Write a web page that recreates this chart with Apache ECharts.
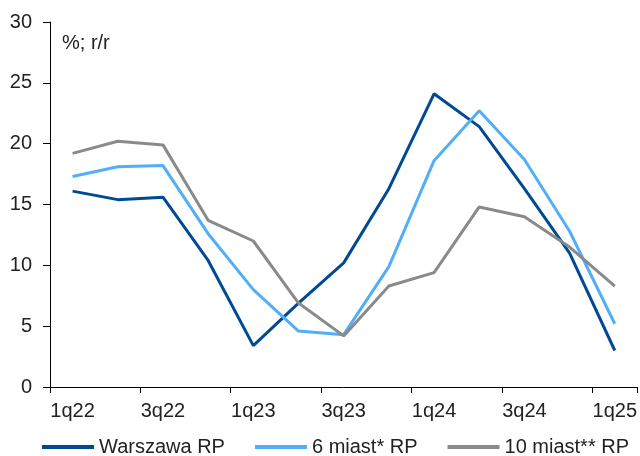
<!DOCTYPE html>
<html><head><meta charset="utf-8">
<script src="https://cdn.jsdelivr.net/npm/echarts@6/dist/echarts.min.js"></script>
<style>html,body{margin:0;padding:0;background:#fff}#c{width:640px;height:456px}</style>
</head><body><div id="c"></div>
<script>
const categories = ['1q22','2q22','3q22','4q22','1q23','2q23','3q23','4q23','1q24','2q24','3q24','4q24','1q25'];
const warszawa = [16.1,15.4,15.6,10.4,3.4,6.9,10.2,16.3,24.1,21.4,16.3,11.0,3.0];
const miast6 = [17.3,18.1,18.2,12.6,8.0,4.6,4.3,9.9,18.6,22.7,18.7,12.8,5.2];
const miast10 = [19.2,20.2,19.9,13.7,12.0,6.9,4.2,8.3,9.4,14.8,14.0,11.5,8.3];
const seriesNames = ['Warszawa RP','6 miast* RP','10 miast** RP'];
const unitLabel = '%; r/r';

const FONT = 'Liberation Sans';
const colors = ['#004a93','#52aff7','#8a8a8a'];
const chart = echarts.init(document.getElementById('c'));
const mk = (name, data, color) => ({
  name, type:'line', data, symbol:'none', smooth:false,
  lineStyle:{width:3, color}, itemStyle:{color}
});
chart.setOption({
  animation:false,
  textStyle:{fontFamily:FONT},
  grid:{left:50, right:2, top:22, bottom:69},
  graphic:[{type:'text', left:62, top:33, style:{text:unitLabel, font:'20px '+FONT, fill:'#222'}}],
  legend:{
    left:37, top:431, padding:5, itemGap:30, itemWidth:52, itemHeight:4, icon:'rect',
    textStyle:{fontSize:20, lineHeight:22, color:'#222', fontFamily:FONT},
    data:seriesNames
  },
  xAxis:{
    type:'category', data:categories, boundaryGap:true,
    axisLine:{lineStyle:{color:'#000', width:1}},
    axisTick:{show:true, inside:false, length:6, lineStyle:{color:'#000'}},
    axisLabel:{interval:1, fontSize:20, color:'#222', margin:14, fontFamily:FONT}
  },
  yAxis:{
    type:'value', min:0, max:30, interval:5,
    axisLine:{show:true, lineStyle:{color:'#000', width:1}},
    axisTick:{show:true, length:7, lineStyle:{color:'#000'}},
    splitLine:{show:false},
    axisLabel:{fontSize:20, color:'#222', margin:18, fontFamily:FONT}
  },
  series:[mk(seriesNames[0], warszawa, colors[0]), mk(seriesNames[1], miast6, colors[1]), mk(seriesNames[2], miast10, colors[2])]
});
</script></body></html>
